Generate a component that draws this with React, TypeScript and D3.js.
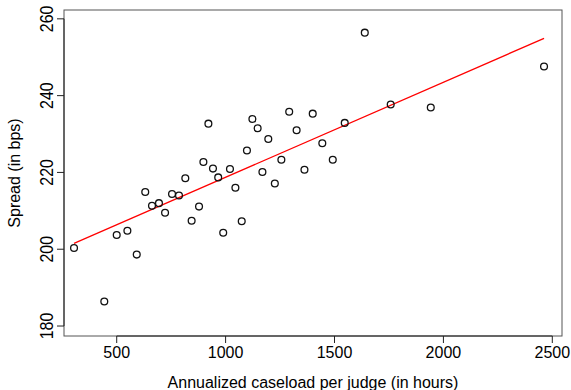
import React from 'react';
import * as d3 from 'd3';

// caseload (hours) vs spread (bps)
const caseload = [
  304, 443, 500, 549, 592, 631, 662, 694, 722, 754,
  786, 815, 844, 878, 898, 921, 942, 966, 989, 1020,
  1045, 1074, 1098, 1123, 1147, 1169, 1196, 1226, 1256, 1292,
  1326, 1362, 1400, 1444, 1492, 1547, 1639, 1758, 1942, 2462,
];
const spread = [
  200.3, 186.4, 203.7, 204.8, 198.6, 214.9, 211.3, 212.0, 209.5, 214.4,
  214.0, 218.5, 207.4, 211.1, 222.7, 232.7, 221.0, 218.7, 204.3, 220.9,
  216.0, 207.3, 225.7, 233.9, 231.5, 220.1, 228.7, 217.1, 223.3, 235.8,
  231.0, 220.7, 235.3, 227.6, 223.3, 232.9, 256.4, 237.7, 236.9, 247.6,
];
const xTicks = [500, 1000, 1500, 2000, 2500];
const yTicks = [180, 200, 220, 240, 260];
// fitted line
const fitIntercept = 193.98;
const fitSlope = 0.02475;

const width = 571;
const height = 390;
const margin = { top: 10, right: 9, bottom: 54, left: 64 };
const font = '"Liberation Sans", Arial, Helvetica, sans-serif';

const App = () => {
  const x = d3.scaleLinear()
    .domain([258, 2544.5])
    .range([margin.left, width - margin.right]);
  const y = d3.scaleLinear()
    .domain([177.4, 262.3])
    .range([height - margin.bottom, margin.top]);

  const pts = caseload.map((c, i) => ({ c, s: spread[i] }));
  const [x0, x1] = d3.extent(caseload) as [number, number];
  const line = d3.line<number>()
    .x(d => x(d))
    .y(d => y(fitIntercept + fitSlope * d));

  const bottom = height - margin.bottom;
  const left = margin.left;

  return (
    <svg width={width} height={height} style={{ position: 'absolute', left: 0, top: 0, background: '#fff' }}
      fontFamily={font}>
      <rect x={left} y={margin.top} width={width - margin.right - left} height={bottom - margin.top}
        fill="none" stroke="#555" strokeWidth={1} />

      {/* x axis */}
      <line x1={x(xTicks[0])} x2={x(xTicks[xTicks.length - 1])} y1={bottom} y2={bottom} stroke="#222" />
      {xTicks.map(t => (
        <g key={t}>
          <line x1={x(t)} x2={x(t)} y1={bottom} y2={bottom + 7} stroke="#222" />
          <text x={x(t)} y={357.5} fontSize={16} textAnchor="middle">{t}</text>
        </g>
      ))}

      {/* y axis */}
      <line x1={left} x2={left} y1={y(yTicks[0])} y2={y(yTicks[yTicks.length - 1])} stroke="#222" />
      {yTicks.map(t => (
        <g key={t}>
          <line x1={left - 7} x2={left} y1={y(t)} y2={y(t)} stroke="#222" />
          <text transform={`translate(52.5,${y(t)}) rotate(-90) scale(1,1.2)`} fontSize={16} textAnchor="middle">{t}</text>
        </g>
      ))}

      <text x={(left + width - margin.right) / 2} y={388} fontSize={16} textAnchor="middle">
        Annualized caseload per judge (in hours)
      </text>
      <text transform={`translate(19.8,${(margin.top + bottom) / 2}) rotate(-90)`} fontSize={16} textAnchor="middle">
        Spread (in bps)
      </text>

      <path d={line([x0, x1]) ?? ''} fill="none" stroke="#ff0000" strokeWidth={1.3} />

      {pts.map((p, i) => (
        <circle key={i} cx={x(p.c)} cy={y(p.s)} r={3.4} fill="none" stroke="#111" strokeWidth={1.3} />
      ))}
    </svg>
  );
};

export default App;
